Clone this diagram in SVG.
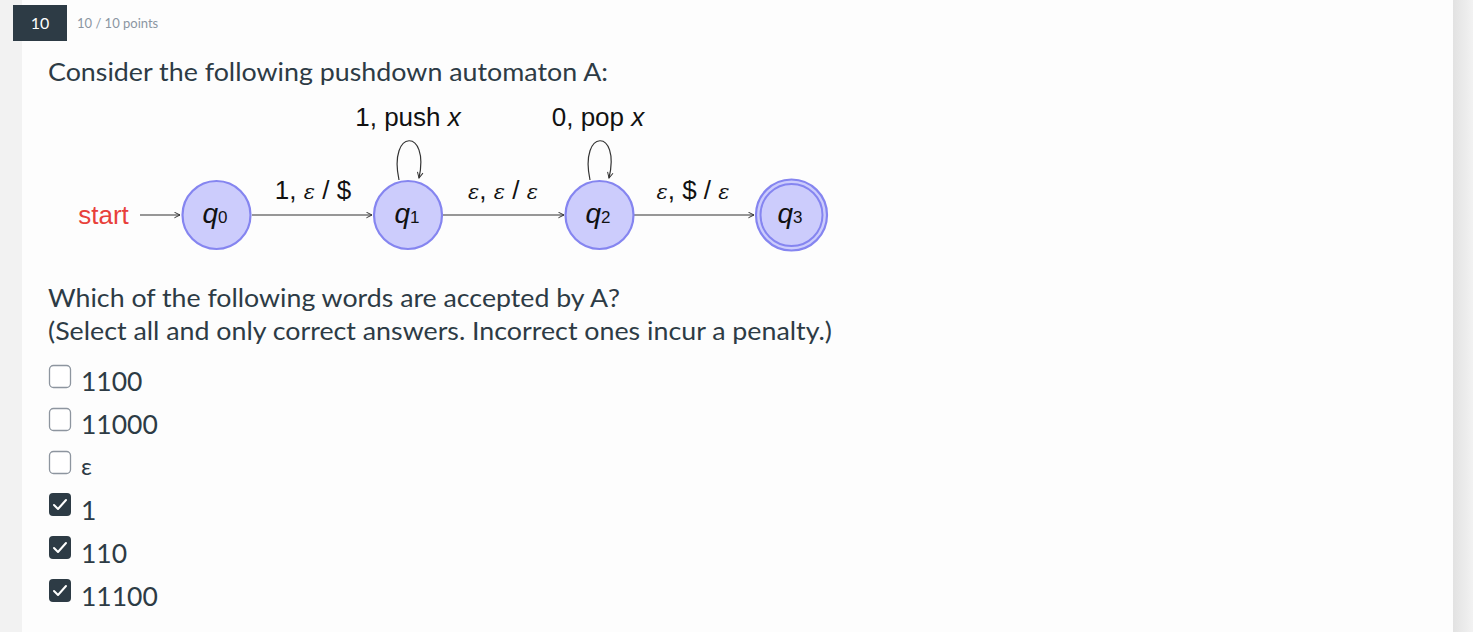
<svg xmlns="http://www.w3.org/2000/svg" width="1473" height="632" viewBox="0 0 1473 632">
<style>
.t{font-family:Lato,"Open Sans",sans-serif;fill:#2d3b45}
.lbl{font-family:"Liberation Sans",Arial,sans-serif;font-size:26px;fill:#111}
.eps{font-family:"DejaVu Serif",serif;font-style:italic;font-size:21px}
.st{fill:#ccccfc;stroke:#8585f0;stroke-width:2.2}
.edge{fill:none;stroke:#333;stroke-width:1.2}
.box{fill:#fff;stroke:#8d959f;stroke-width:1.3}
.cbox{fill:#2d3b45}
.chk{fill:none;stroke:#fff;stroke-width:2;stroke-linecap:round;stroke-linejoin:round}
</style>
<defs>
<marker id="ah" viewBox="0 0 10 10" refX="9" refY="5" markerWidth="7" markerHeight="7" markerUnits="userSpaceOnUse" orient="auto">
<path d="M1,1 L9,5 L1,9" fill="none" stroke="#333" stroke-width="1.4"/>
</marker>
<linearGradient id="sh" x1="0" x2="1" y1="0" y2="0">
<stop offset="0" stop-color="#e2e2e2"/>
<stop offset="1" stop-color="#f2f2f2"/>
</linearGradient>
</defs>
<rect x="0" y="0" width="1473" height="632" fill="#fdfdfd"/>
<rect x="0" y="0" width="22" height="632" fill="#f2f2f2"/>
<rect x="1453" y="0" width="20" height="632" fill="url(#sh)"/>
<g id="header">
<rect x="13" y="5" width="54" height="36" fill="#2d3b45"/>
<text x="40" y="29" text-anchor="middle" font-family="Lato,sans-serif" font-size="16" fill="#fff">10</text>
<text x="77" y="28" font-family="Lato,sans-serif" font-size="13" fill="#8b96a2">10 / 10 points</text>
</g>
<text class="t" x="48" y="81" font-size="25" textLength="560" lengthAdjust="spacingAndGlyphs">Consider the following pushdown automaton A:</text>
<g id="connectors">
<line class="edge" x1="140" y1="215" x2="180" y2="215" marker-end="url(#ah)"/>
<line class="edge" x1="252" y1="215" x2="372" y2="215" marker-end="url(#ah)"/>
<line class="edge" x1="443" y1="215" x2="564" y2="215" marker-end="url(#ah)"/>
<line class="edge" x1="634" y1="215" x2="754" y2="215" marker-end="url(#ah)"/>
<path class="edge" d="M399,180 C388,128 430,128 419,178" marker-end="url(#ah)"/>
<path class="edge" d="M590,180 C579,128 621,128 609,178" marker-end="url(#ah)"/>
<text class="lbl" x="103.5" y="224" text-anchor="middle" font-size="27" style="fill:#e8403a">start</text>
<text class="lbl" x="313" y="199" text-anchor="middle">1, <tspan class="eps">ε</tspan> / $</text>
<text class="lbl" x="503" y="199" text-anchor="middle"><tspan class="eps">ε</tspan>, <tspan class="eps">ε</tspan> / <tspan class="eps">ε</tspan></text>
<text class="lbl" x="693" y="199" text-anchor="middle"><tspan class="eps">ε</tspan>, $ / <tspan class="eps">ε</tspan></text>
<text class="lbl" x="408" y="126" text-anchor="middle">1, push <tspan font-style="italic">x</tspan></text>
<text class="lbl" x="598" y="126" text-anchor="middle">0, pop <tspan font-style="italic">x</tspan></text>
</g>
<g id="q0">
<circle class="st" cx="216.5" cy="215" r="34"/>
<text class="lbl" x="215" y="223" text-anchor="middle"><tspan font-style="italic" font-size="28">q</tspan><tspan font-size="17">0</tspan></text>
</g>
<g id="q1">
<circle class="st" cx="408" cy="215" r="34"/>
<text class="lbl" x="407" y="223" text-anchor="middle"><tspan font-style="italic" font-size="28">q</tspan><tspan font-size="17">1</tspan></text>
</g>
<g id="q2">
<circle class="st" cx="599.5" cy="215" r="34"/>
<text class="lbl" x="598" y="223" text-anchor="middle"><tspan font-style="italic" font-size="28">q</tspan><tspan font-size="17">2</tspan></text>
</g>
<g id="q3">
<circle class="st" cx="791.5" cy="215" r="35.5"/>
<circle cx="791.5" cy="215" r="31" fill="none" stroke="#8585f0" stroke-width="2"/>
<text class="lbl" x="790" y="223" text-anchor="middle"><tspan font-style="italic" font-size="28">q</tspan><tspan font-size="17">3</tspan></text>
</g>
<text class="t" x="48" y="307" font-size="25" textLength="572" lengthAdjust="spacingAndGlyphs">Which of the following words are accepted by A?</text>
<text class="t" x="48" y="340" font-size="25" textLength="784" lengthAdjust="spacingAndGlyphs">(Select all and only correct answers. Incorrect ones incur a penalty.)</text>
<g id="options">
<rect class="box" x="49.5" y="365.5" width="21" height="22" rx="4"/>
<text class="t" x="81" y="391" font-size="26.5">1100</text>
<rect class="box" x="49.5" y="408.5" width="21" height="22" rx="4"/>
<text class="t" x="81" y="434" font-size="26.5">11000</text>
<rect class="box" x="49.5" y="451.5" width="21" height="22" rx="4"/>
<text class="t" x="81" y="475" font-size="24" font-family="'DejaVu Serif',serif">ε</text>
<rect class="cbox" x="49" y="493" width="22" height="23" rx="4"/>
<path class="chk" d="M54,505 L58,509 L66,500"/>
<text class="t" x="81" y="520" font-size="26.5">1</text>
<rect class="cbox" x="49" y="536" width="22" height="23" rx="4"/>
<path class="chk" d="M54,548 L58,552 L66,543"/>
<text class="t" x="81" y="563" font-size="26.5">110</text>
<rect class="cbox" x="49" y="579" width="22" height="23" rx="4"/>
<path class="chk" d="M54,591 L58,595 L66,586"/>
<text class="t" x="81" y="606" font-size="26.5">11100</text>
</g>
</svg>
